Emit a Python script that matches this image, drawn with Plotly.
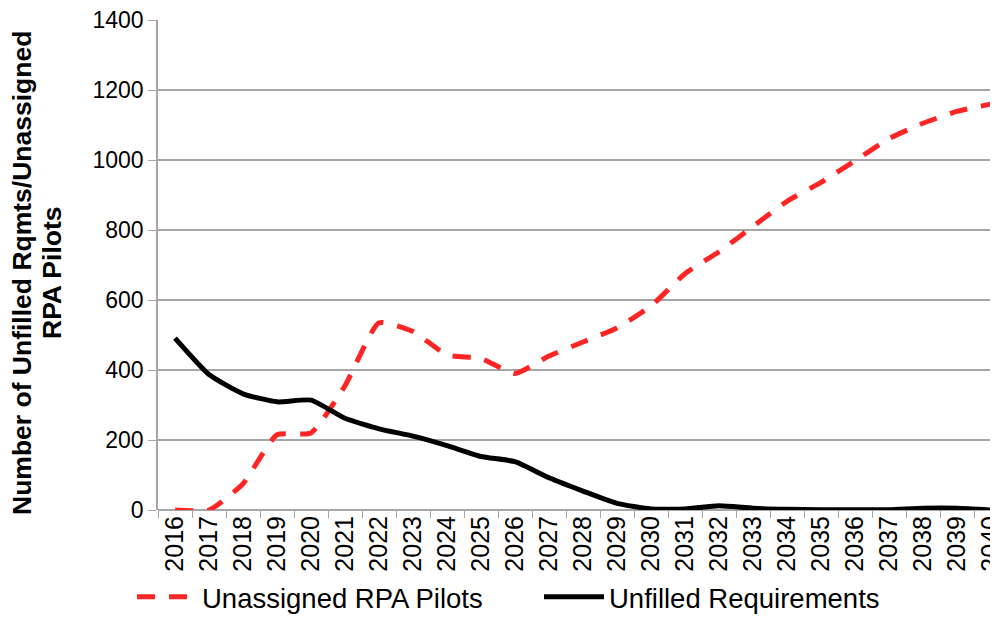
import plotly.graph_objects as go

# Years on the category axis
years = [str(y) for y in range(2016, 2041)]

# Unassigned RPA pilots (red dashed)
unassigned_pilots = [0, 0, 75, 215, 220, 355, 535, 510, 443, 433, 390, 440,
                     480, 520, 583, 675, 738, 810, 882, 936, 998, 1061, 1105,
                     1139, 1160]

# Unfilled requirements (black solid)
unfilled_reqs = [491, 387, 332, 309, 314, 262, 232, 211, 184, 153, 138, 92,
                 54, 19, 3, 3, 12, 5, 2, 1, 1, 1, 5, 5, 0]

y_ticks = [0, 200, 400, 600, 800, 1000, 1200, 1400]

# y-axis title, one string per line
y_title_lines = ["Number of Unfilled Rqmts/Unassigned", "RPA Pilots"]

FONT = "Liberation Sans, Arial, sans-serif"
NARROW = "Liberation Sans Narrow, Arial Narrow, Liberation Sans, sans-serif"
GRID = "#a6a6a6"

# page body has an 8px margin, so the figure is 8px smaller each way
W, H = 990, 634
L, T, B = 150, 12, 132

fig = go.Figure()

fig.add_trace(go.Scatter(
    x=years, y=unassigned_pilots,
    mode="lines",
    name="Unassigned RPA Pilots",
    line=dict(color="#ff2525", width=5, dash="18px,14px",
              shape="spline", smoothing=0.5),
))

fig.add_trace(go.Scatter(
    x=years, y=unfilled_reqs,
    mode="lines",
    name="Unfilled Requirements",
    line=dict(color="black", width=5, shape="spline", smoothing=0.5),
))

# y title drawn as two rotated lines so the line gap matches
plot_h = H - T - B
for line_text, cx in zip(y_title_lines, [14, 44]):
    fig.add_annotation(
        xref="paper", yref="paper",
        x=0, y=(H - B - 265) / plot_h,
        xshift=cx - L,
        text="<b>%s</b>" % line_text,
        textangle=-90,
        showarrow=False,
        xanchor="center", yanchor="middle",
        font=dict(size=26.5, family=FONT, color="black"),
    )

fig.update_layout(
    width=W,
    height=H,
    margin=dict(l=L, r=0, t=T, b=B),
    plot_bgcolor="white",
    paper_bgcolor="white",
    font=dict(family=FONT, color="black"),
    xaxis=dict(
        type="category",
        range=[-0.5, -0.5 + 840 / 34],
        tickangle=-90,
        tickfont=dict(size=25),
        ticklabelstandoff=0,
        ticks="outside",
        tickson="boundaries",
        ticklen=7,
        tickcolor=GRID,
        showgrid=False,
        showline=False,
        zeroline=False,
        automargin=False,
    ),
    yaxis=dict(
        range=[0, 1400],
        tickvals=y_ticks,
        tickfont=dict(size=23, family=NARROW),
        ticklabeloverflow="allow",
        ticklabelstandoff=0,
        ticks="outside",
        ticklen=8,
        tickcolor=GRID,
        showgrid=True,
        gridcolor=GRID,
        gridwidth=1.5,
        showline=True,
        linecolor=GRID,
        linewidth=1.5,
        zeroline=True,
        zerolinecolor=GRID,
        zerolinewidth=1.5,
        automargin=False,
    ),
    legend=dict(
        orientation="h",
        xref="container",
        yref="container",
        x=124 / W,
        xanchor="left",
        y=0.071,
        yanchor="middle",
        font=dict(size=27.5, family=NARROW),
        itemwidth=60,
        entrywidth=332,
        entrywidthmode="pixels",
        traceorder="normal",
    ),
)

fig.write_html("out.html")
